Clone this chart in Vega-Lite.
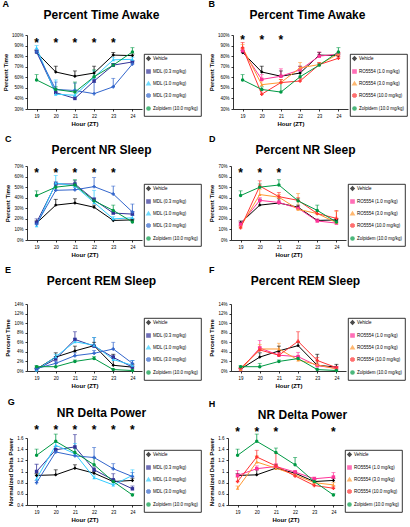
{
"$schema":"https://vega.github.io/schema/vega-lite/v6.json",
"padding":{"left":2,"top":0,"right":0,"bottom":0},
"background":"white",
"config":{"font":"Liberation Sans","view":{"stroke":null},
"axis":{"labelFontSize":4.5,"labelFont":"Liberation Sans","titleFontSize":6,"titleFont":"Liberation Sans","titleFontWeight":"bold","labelColor":"#000","titleColor":"#000","domainColor":"#000","tickColor":"#000","tickSize":2,"grid":false,"labelPadding":2,"titlePadding":3,"domainWidth":0.8,"tickWidth":0.8},
"title":{"fontSize":12,"font":"Liberation Sans","fontWeight":"bold","frame":"group","dx":17,"color":"#000"},
"legend":{"orient":"none","title":null,"strokeColor":"#000","strokeWidth":0.8,"padding":2,"labelFontSize":4.5,"labelFont":"Liberation Sans","symbolSize":10,"rowPadding":2,"labelOffset":2,"labelColor":"#000"}},
"datasets":{
"d":[
{"m":"awake","s":"Vehicle","h":19,"v":83.5,"e":85.5},{"m":"awake","s":"Vehicle","h":20,"v":65,"e":70.5},{"m":"awake","s":"Vehicle","h":21,"v":61,"e":66},{"m":"awake","s":"Vehicle","h":22,"v":64,"e":70.5},{"m":"awake","s":"Vehicle","h":23,"v":81,"e":83.5},{"m":"awake","s":"Vehicle","h":24,"v":80.5,"e":82},
{"m":"awake","s":"MDL (0.3 mg/kg)","h":19,"v":84,"e":86},{"m":"awake","s":"MDL (0.3 mg/kg)","h":20,"v":45.5,"e":49},{"m":"awake","s":"MDL (0.3 mg/kg)","h":21,"v":40,"e":42},{"m":"awake","s":"MDL (0.3 mg/kg)","h":22,"v":56.5,"e":60},{"m":"awake","s":"MDL (0.3 mg/kg)","h":23,"v":71.5,"e":73},{"m":"awake","s":"MDL (0.3 mg/kg)","h":24,"v":74.5,"e":76},
{"m":"awake","s":"MDL (1.0 mg/kg)","h":19,"v":88,"e":90},{"m":"awake","s":"MDL (1.0 mg/kg)","h":20,"v":44,"e":57.5},{"m":"awake","s":"MDL (1.0 mg/kg)","h":21,"v":43,"e":48.5},{"m":"awake","s":"MDL (1.0 mg/kg)","h":22,"v":60,"e":66},{"m":"awake","s":"MDL (1.0 mg/kg)","h":23,"v":76.5,"e":79},{"m":"awake","s":"MDL (1.0 mg/kg)","h":24,"v":77,"e":79},
{"m":"awake","s":"MDL (3.0 mg/kg)","h":19,"v":84,"e":86},{"m":"awake","s":"MDL (3.0 mg/kg)","h":20,"v":48.5,"e":55.5},{"m":"awake","s":"MDL (3.0 mg/kg)","h":21,"v":47.5,"e":54.5},{"m":"awake","s":"MDL (3.0 mg/kg)","h":22,"v":44.5,"e":55},{"m":"awake","s":"MDL (3.0 mg/kg)","h":23,"v":51,"e":59},{"m":"awake","s":"MDL (3.0 mg/kg)","h":24,"v":72.5,"e":75},
{"m":"awake","s":"RO5554 (1.0 mg/kg)","h":19,"v":85,"e":87},{"m":"awake","s":"RO5554 (1.0 mg/kg)","h":20,"v":58,"e":62.5},{"m":"awake","s":"RO5554 (1.0 mg/kg)","h":21,"v":61,"e":68},{"m":"awake","s":"RO5554 (1.0 mg/kg)","h":22,"v":67,"e":70},{"m":"awake","s":"RO5554 (1.0 mg/kg)","h":23,"v":80,"e":84},{"m":"awake","s":"RO5554 (1.0 mg/kg)","h":24,"v":82,"e":83.5},
{"m":"awake","s":"RO5554 (3.0 mg/kg)","h":19,"v":88,"e":91},{"m":"awake","s":"RO5554 (3.0 mg/kg)","h":20,"v":53,"e":58},{"m":"awake","s":"RO5554 (3.0 mg/kg)","h":21,"v":55,"e":58},{"m":"awake","s":"RO5554 (3.0 mg/kg)","h":22,"v":69,"e":74},{"m":"awake","s":"RO5554 (3.0 mg/kg)","h":23,"v":72,"e":74},{"m":"awake","s":"RO5554 (3.0 mg/kg)","h":24,"v":82,"e":83},
{"m":"awake","s":"RO5554 (10.0 mg/kg)","h":19,"v":88,"e":93},{"m":"awake","s":"RO5554 (10.0 mg/kg)","h":20,"v":44,"e":48},{"m":"awake","s":"RO5554 (10.0 mg/kg)","h":21,"v":55,"e":58},{"m":"awake","s":"RO5554 (10.0 mg/kg)","h":22,"v":56.5,"e":59},{"m":"awake","s":"RO5554 (10.0 mg/kg)","h":23,"v":72,"e":74},{"m":"awake","s":"RO5554 (10.0 mg/kg)","h":24,"v":78,"e":79.5},
{"m":"awake","s":"Zolpidem (10.0 mg/kg)","h":19,"v":57.5,"e":62.5},{"m":"awake","s":"Zolpidem (10.0 mg/kg)","h":20,"v":48.5,"e":51},{"m":"awake","s":"Zolpidem (10.0 mg/kg)","h":21,"v":46,"e":55.5},{"m":"awake","s":"Zolpidem (10.0 mg/kg)","h":22,"v":60.5,"e":67},{"m":"awake","s":"Zolpidem (10.0 mg/kg)","h":23,"v":71.5,"e":73},{"m":"awake","s":"Zolpidem (10.0 mg/kg)","h":24,"v":84,"e":88},

{"m":"nr","s":"Vehicle","h":19,"v":16,"e":18},{"m":"nr","s":"Vehicle","h":20,"v":33,"e":38.5},{"m":"nr","s":"Vehicle","h":21,"v":35,"e":39},{"m":"nr","s":"Vehicle","h":22,"v":31,"e":33},{"m":"nr","s":"Vehicle","h":23,"v":18.5,"e":19.5},{"m":"nr","s":"Vehicle","h":24,"v":19,"e":20},
{"m":"nr","s":"MDL (0.3 mg/kg)","h":19,"v":16.5,"e":20},{"m":"nr","s":"MDL (0.3 mg/kg)","h":20,"v":53,"e":55},{"m":"nr","s":"MDL (0.3 mg/kg)","h":21,"v":53,"e":56},{"m":"nr","s":"MDL (0.3 mg/kg)","h":22,"v":38,"e":40},{"m":"nr","s":"MDL (0.3 mg/kg)","h":23,"v":25.5,"e":27.5},{"m":"nr","s":"MDL (0.3 mg/kg)","h":24,"v":24.5,"e":27},
{"m":"nr","s":"MDL (1.0 mg/kg)","h":19,"v":13.5,"e":15},{"m":"nr","s":"MDL (1.0 mg/kg)","h":20,"v":54,"e":61},{"m":"nr","s":"MDL (1.0 mg/kg)","h":21,"v":51,"e":53},{"m":"nr","s":"MDL (1.0 mg/kg)","h":22,"v":35.5,"e":47},{"m":"nr","s":"MDL (1.0 mg/kg)","h":23,"v":20,"e":22},{"m":"nr","s":"MDL (1.0 mg/kg)","h":24,"v":21,"e":23},
{"m":"nr","s":"MDL (3.0 mg/kg)","h":19,"v":15,"e":17},{"m":"nr","s":"MDL (3.0 mg/kg)","h":20,"v":47,"e":53},{"m":"nr","s":"MDL (3.0 mg/kg)","h":21,"v":47.5,"e":50},{"m":"nr","s":"MDL (3.0 mg/kg)","h":22,"v":50.5,"e":59},{"m":"nr","s":"MDL (3.0 mg/kg)","h":23,"v":43.5,"e":51},{"m":"nr","s":"MDL (3.0 mg/kg)","h":24,"v":26.5,"e":34},
{"m":"nr","s":"RO5554 (1.0 mg/kg)","h":19,"v":15,"e":17},{"m":"nr","s":"RO5554 (1.0 mg/kg)","h":20,"v":37.5,"e":40},{"m":"nr","s":"RO5554 (1.0 mg/kg)","h":21,"v":35.5,"e":37},{"m":"nr","s":"RO5554 (1.0 mg/kg)","h":22,"v":30,"e":32},{"m":"nr","s":"RO5554 (1.0 mg/kg)","h":23,"v":18,"e":20},{"m":"nr","s":"RO5554 (1.0 mg/kg)","h":24,"v":16,"e":17},
{"m":"nr","s":"RO5554 (3.0 mg/kg)","h":19,"v":12.5,"e":14},{"m":"nr","s":"RO5554 (3.0 mg/kg)","h":20,"v":43,"e":48},{"m":"nr","s":"RO5554 (3.0 mg/kg)","h":21,"v":40.5,"e":43},{"m":"nr","s":"RO5554 (3.0 mg/kg)","h":22,"v":29,"e":44},{"m":"nr","s":"RO5554 (3.0 mg/kg)","h":23,"v":25,"e":27},{"m":"nr","s":"RO5554 (3.0 mg/kg)","h":24,"v":16.5,"e":27},
{"m":"nr","s":"RO5554 (10.0 mg/kg)","h":19,"v":11.5,"e":13},{"m":"nr","s":"RO5554 (10.0 mg/kg)","h":20,"v":51,"e":56},{"m":"nr","s":"RO5554 (10.0 mg/kg)","h":21,"v":41,"e":45},{"m":"nr","s":"RO5554 (10.0 mg/kg)","h":22,"v":37.5,"e":40},{"m":"nr","s":"RO5554 (10.0 mg/kg)","h":23,"v":25,"e":27},{"m":"nr","s":"RO5554 (10.0 mg/kg)","h":24,"v":20.5,"e":28},
{"m":"nr","s":"Zolpidem (10.0 mg/kg)","h":19,"v":42,"e":46.5},{"m":"nr","s":"Zolpidem (10.0 mg/kg)","h":20,"v":50,"e":53},{"m":"nr","s":"Zolpidem (10.0 mg/kg)","h":21,"v":52,"e":57},{"m":"nr","s":"Zolpidem (10.0 mg/kg)","h":22,"v":37,"e":39},{"m":"nr","s":"Zolpidem (10.0 mg/kg)","h":23,"v":28,"e":33},{"m":"nr","s":"Zolpidem (10.0 mg/kg)","h":24,"v":17,"e":19},

{"m":"rem","s":"Vehicle","h":19,"v":0.4,"e":0.6},{"m":"rem","s":"Vehicle","h":20,"v":2.9,"e":3.8},{"m":"rem","s":"Vehicle","h":21,"v":4.2,"e":5.2},{"m":"rem","s":"Vehicle","h":22,"v":5.3,"e":6},{"m":"rem","s":"Vehicle","h":23,"v":1.2,"e":3.5},{"m":"rem","s":"Vehicle","h":24,"v":0.8,"e":1.4},
{"m":"rem","s":"MDL (0.3 mg/kg)","h":19,"v":0.3,"e":0.5},{"m":"rem","s":"MDL (0.3 mg/kg)","h":20,"v":2.5,"e":3},{"m":"rem","s":"MDL (0.3 mg/kg)","h":21,"v":6.6,"e":8.2},{"m":"rem","s":"MDL (0.3 mg/kg)","h":22,"v":5.2,"e":7},{"m":"rem","s":"MDL (0.3 mg/kg)","h":23,"v":2.85,"e":3.3},{"m":"rem","s":"MDL (0.3 mg/kg)","h":24,"v":0.8,"e":1},
{"m":"rem","s":"MDL (1.0 mg/kg)","h":19,"v":0.2,"e":0.4},{"m":"rem","s":"MDL (1.0 mg/kg)","h":20,"v":3,"e":3.5},{"m":"rem","s":"MDL (1.0 mg/kg)","h":21,"v":6.1,"e":6.8},{"m":"rem","s":"MDL (1.0 mg/kg)","h":22,"v":5.4,"e":7},{"m":"rem","s":"MDL (1.0 mg/kg)","h":23,"v":2.4,"e":2.8},{"m":"rem","s":"MDL (1.0 mg/kg)","h":24,"v":1.2,"e":2.2},
{"m":"rem","s":"MDL (3.0 mg/kg)","h":19,"v":0.5,"e":0.7},{"m":"rem","s":"MDL (3.0 mg/kg)","h":20,"v":1.6,"e":2},{"m":"rem","s":"MDL (3.0 mg/kg)","h":21,"v":3.2,"e":3.8},{"m":"rem","s":"MDL (3.0 mg/kg)","h":22,"v":3.7,"e":4.3},{"m":"rem","s":"MDL (3.0 mg/kg)","h":23,"v":4.6,"e":6},{"m":"rem","s":"MDL (3.0 mg/kg)","h":24,"v":1.6,"e":2.2},
{"m":"rem","s":"RO5554 (1.0 mg/kg)","h":19,"v":0.3,"e":0.5},{"m":"rem","s":"RO5554 (1.0 mg/kg)","h":20,"v":4.8,"e":6.4},{"m":"rem","s":"RO5554 (1.0 mg/kg)","h":21,"v":3.3,"e":3.8},{"m":"rem","s":"RO5554 (1.0 mg/kg)","h":22,"v":3,"e":3.9},{"m":"rem","s":"RO5554 (1.0 mg/kg)","h":23,"v":1.1,"e":1.5},{"m":"rem","s":"RO5554 (1.0 mg/kg)","h":24,"v":0.6,"e":0.9},
{"m":"rem","s":"RO5554 (3.0 mg/kg)","h":19,"v":0.3,"e":0.5},{"m":"rem","s":"RO5554 (3.0 mg/kg)","h":20,"v":4.6,"e":5.5},{"m":"rem","s":"RO5554 (3.0 mg/kg)","h":21,"v":4.6,"e":5.8},{"m":"rem","s":"RO5554 (3.0 mg/kg)","h":22,"v":2.3,"e":2.8},{"m":"rem","s":"RO5554 (3.0 mg/kg)","h":23,"v":1.3,"e":1.7},{"m":"rem","s":"RO5554 (3.0 mg/kg)","h":24,"v":0.4,"e":0.6},
{"m":"rem","s":"RO5554 (10.0 mg/kg)","h":19,"v":0.6,"e":0.8},{"m":"rem","s":"RO5554 (10.0 mg/kg)","h":20,"v":4.4,"e":5},{"m":"rem","s":"RO5554 (10.0 mg/kg)","h":21,"v":3.3,"e":3.9},{"m":"rem","s":"RO5554 (10.0 mg/kg)","h":22,"v":6.2,"e":8.2},{"m":"rem","s":"RO5554 (10.0 mg/kg)","h":23,"v":2.2,"e":2.8},{"m":"rem","s":"RO5554 (10.0 mg/kg)","h":24,"v":0.7,"e":1},
{"m":"rem","s":"Zolpidem (10.0 mg/kg)","h":19,"v":0.9,"e":1.1},{"m":"rem","s":"Zolpidem (10.0 mg/kg)","h":20,"v":0.9,"e":1.6},{"m":"rem","s":"Zolpidem (10.0 mg/kg)","h":21,"v":2,"e":2.3},{"m":"rem","s":"Zolpidem (10.0 mg/kg)","h":22,"v":2.6,"e":3},{"m":"rem","s":"Zolpidem (10.0 mg/kg)","h":23,"v":0.3,"e":0.4},{"m":"rem","s":"Zolpidem (10.0 mg/kg)","h":24,"v":0.1,"e":0.2},

{"m":"delta","s":"Vehicle","h":19,"v":0.93,"e":0.96},{"m":"delta","s":"Vehicle","h":20,"v":0.94,"e":1.03},{"m":"delta","s":"Vehicle","h":21,"v":1.06,"e":1.12},{"m":"delta","s":"Vehicle","h":22,"v":0.97,"e":1.0},{"m":"delta","s":"Vehicle","h":23,"v":0.82,"e":0.86},{"m":"delta","s":"Vehicle","h":24,"v":0.84,"e":0.88},
{"m":"delta","s":"MDL (0.3 mg/kg)","h":19,"v":1.0,"e":1.13},{"m":"delta","s":"MDL (0.3 mg/kg)","h":20,"v":1.39,"e":1.45},{"m":"delta","s":"MDL (0.3 mg/kg)","h":21,"v":1.44,"e":1.66},{"m":"delta","s":"MDL (0.3 mg/kg)","h":22,"v":1.03,"e":1.08},{"m":"delta","s":"MDL (0.3 mg/kg)","h":23,"v":0.85,"e":0.96},{"m":"delta","s":"MDL (0.3 mg/kg)","h":24,"v":0.69,"e":0.74},
{"m":"delta","s":"MDL (1.0 mg/kg)","h":19,"v":0.87,"e":0.93},{"m":"delta","s":"MDL (1.0 mg/kg)","h":20,"v":1.47,"e":1.52},{"m":"delta","s":"MDL (1.0 mg/kg)","h":21,"v":1.32,"e":1.5},{"m":"delta","s":"MDL (1.0 mg/kg)","h":22,"v":0.89,"e":0.92},{"m":"delta","s":"MDL (1.0 mg/kg)","h":23,"v":0.76,"e":0.79},{"m":"delta","s":"MDL (1.0 mg/kg)","h":24,"v":0.93,"e":1.03},
{"m":"delta","s":"MDL (3.0 mg/kg)","h":19,"v":0.8,"e":0.84},{"m":"delta","s":"MDL (3.0 mg/kg)","h":20,"v":1.35,"e":1.4},{"m":"delta","s":"MDL (3.0 mg/kg)","h":21,"v":1.28,"e":1.32},{"m":"delta","s":"MDL (3.0 mg/kg)","h":22,"v":1.25,"e":1.43},{"m":"delta","s":"MDL (3.0 mg/kg)","h":23,"v":1.05,"e":1.14},{"m":"delta","s":"MDL (3.0 mg/kg)","h":24,"v":0.91,"e":0.98},
{"m":"delta","s":"RO5554 (1.0 mg/kg)","h":19,"v":0.93,"e":1.02},{"m":"delta","s":"RO5554 (1.0 mg/kg)","h":20,"v":1.05,"e":1.1},{"m":"delta","s":"RO5554 (1.0 mg/kg)","h":21,"v":1.09,"e":1.14},{"m":"delta","s":"RO5554 (1.0 mg/kg)","h":22,"v":0.99,"e":1.02},{"m":"delta","s":"RO5554 (1.0 mg/kg)","h":23,"v":0.87,"e":0.9},{"m":"delta","s":"RO5554 (1.0 mg/kg)","h":24,"v":0.9,"e":0.98},
{"m":"delta","s":"RO5554 (3.0 mg/kg)","h":19,"v":0.7,"e":0.74},{"m":"delta","s":"RO5554 (3.0 mg/kg)","h":20,"v":1.17,"e":1.28},{"m":"delta","s":"RO5554 (3.0 mg/kg)","h":21,"v":1.06,"e":1.1},{"m":"delta","s":"RO5554 (3.0 mg/kg)","h":22,"v":0.94,"e":0.98},{"m":"delta","s":"RO5554 (3.0 mg/kg)","h":23,"v":0.8,"e":0.84},{"m":"delta","s":"RO5554 (3.0 mg/kg)","h":24,"v":0.76,"e":0.8},
{"m":"delta","s":"RO5554 (10.0 mg/kg)","h":19,"v":0.82,"e":0.9},{"m":"delta","s":"RO5554 (10.0 mg/kg)","h":20,"v":1.26,"e":1.38},{"m":"delta","s":"RO5554 (10.0 mg/kg)","h":21,"v":1.1,"e":1.33},{"m":"delta","s":"RO5554 (10.0 mg/kg)","h":22,"v":0.92,"e":0.96},{"m":"delta","s":"RO5554 (10.0 mg/kg)","h":23,"v":0.75,"e":0.79},{"m":"delta","s":"RO5554 (10.0 mg/kg)","h":24,"v":0.7,"e":0.74},
{"m":"delta","s":"Zolpidem (10.0 mg/kg)","h":19,"v":1.29,"e":1.4},{"m":"delta","s":"Zolpidem (10.0 mg/kg)","h":20,"v":1.54,"e":1.67},{"m":"delta","s":"Zolpidem (10.0 mg/kg)","h":21,"v":1.34,"e":1.42},{"m":"delta","s":"Zolpidem (10.0 mg/kg)","h":22,"v":1.12,"e":1.25},{"m":"delta","s":"Zolpidem (10.0 mg/kg)","h":23,"v":0.82,"e":0.86},{"m":"delta","s":"Zolpidem (10.0 mg/kg)","h":24,"v":0.58,"e":0.6}
],
"st":[
{"p":"A","h":19,"y":94.5},{"p":"A","h":20,"y":94.5},{"p":"A","h":21,"y":94.5},{"p":"A","h":22,"y":94.5},{"p":"A","h":23,"y":94.5},
{"p":"B","h":19,"y":97.5},{"p":"B","h":20,"y":97.5},{"p":"B","h":21,"y":97.5},
{"p":"C","h":19,"y":65},{"p":"C","h":20,"y":65},{"p":"C","h":21,"y":65},{"p":"C","h":22,"y":65},{"p":"C","h":23,"y":65},
{"p":"D","h":19,"y":65},{"p":"D","h":20,"y":65},{"p":"D","h":21,"y":65},
{"p":"G","h":19,"y":1.78},{"p":"G","h":20,"y":1.78},{"p":"G","h":21,"y":1.78},{"p":"G","h":22,"y":1.78},{"p":"G","h":23,"y":1.78},{"p":"G","h":24,"y":1.78},
{"p":"H","h":19,"y":1.74},{"p":"H","h":20,"y":1.74},{"p":"H","h":21,"y":1.74},{"p":"H","h":24,"y":1.74}
]},
"resolve":{"scale":{"color":"independent","shape":"independent","x":"independent","y":"independent"},"legend":{"color":"independent","shape":"independent"}},
"spacing":8,
"vconcat":[
{"hconcat":[
{"title":{"text":"A","anchor":"start","fontSize":9,"frame":"bounds","offset":0,"dx":0},"vconcat":[{"width":115,"height":74,"title":{"text":"Percent Time Awake","offset":10},
"encoding":{"x":{"field":"h","type":"quantitative","scale":{"domain":[18.5,24.5]},"axis":{"values":[19,20,21,22,23,24],"title":"Hour (ZT)"}},
"y":{"field":"v","type":"quantitative","scale":{"domain":[30,100]},"axis":{"values":[30,40,50,60,70,80,90,100],"labelExpr":"datum.value+'%'","title":"Percent Time"}},
"color":{"field":"s","type":"nominal","scale":{"domain":["Vehicle","MDL (0.3 mg/kg)","MDL (1.0 mg/kg)","MDL (3.0 mg/kg)","Zolpidem (10.0 mg/kg)"],"range":["#000000","#333399","#33CCFF","#3366CC","#009944"]},"legend":{"legendX":117,"legendY":19}}},
"layer":[{"data":{"name":"d"},"transform":[{"filter":"datum.m=='awake' && indexof(datum.s,'RO')<0"}],"layer":[
{"mark":{"type":"rule","strokeWidth":0.8},"encoding":{"y2":{"field":"e"}}},
{"mark":{"type":"tick","orient":"horizontal","size":4,"thickness":0.8},"encoding":{"y":{"field":"e","type":"quantitative"}}},
{"mark":{"type":"line","strokeWidth":1},"encoding":{}},
{"mark":{"type":"point","filled":true,"size":12,"opacity":1},"encoding":{"shape":{"field":"s","type":"nominal","scale":{"domain":["Vehicle","MDL (0.3 mg/kg)","MDL (1.0 mg/kg)","MDL (3.0 mg/kg)","Zolpidem (10.0 mg/kg)"],"range":["diamond","square","triangle-up","cross","circle"]},"legend":{"legendX":117,"legendY":19}}}}]},
{"data":{"name":"st"},"transform":[{"filter":"datum.p=='A'"}],"mark":{"type":"text","text":"*","fontSize":12,"fontWeight":"bold","baseline":"alphabetic","dy":6,"clip":false},"encoding":{"y":{"field":"y","type":"quantitative"},"color":{"value":"#000"}}}]}]},
{"title":{"text":"B","anchor":"start","fontSize":9,"frame":"bounds","offset":0,"dx":0},"vconcat":[{"width":115,"height":74,"title":{"text":"Percent Time Awake","offset":10},
"encoding":{"x":{"field":"h","type":"quantitative","scale":{"domain":[18.5,24.5]},"axis":{"values":[19,20,21,22,23,24],"title":"Hour (ZT)"}},
"y":{"field":"v","type":"quantitative","scale":{"domain":[30,100]},"axis":{"values":[30,40,50,60,70,80,90,100],"labelExpr":"datum.value+'%'","title":"Percent Time"}},
"color":{"field":"s","type":"nominal","scale":{"domain":["Vehicle","RO5554 (1.0 mg/kg)","RO5554 (3.0 mg/kg)","RO5554 (10.0 mg/kg)","Zolpidem (10.0 mg/kg)"],"range":["#000000","#FF3399","#FF9933","#FF3333","#009944"]},"legend":{"legendX":117,"legendY":19}}},
"layer":[{"data":{"name":"d"},"transform":[{"filter":"datum.m=='awake' && indexof(datum.s,'MDL')<0"}],"layer":[
{"mark":{"type":"rule","strokeWidth":0.8},"encoding":{"y2":{"field":"e"}}},
{"mark":{"type":"tick","orient":"horizontal","size":4,"thickness":0.8},"encoding":{"y":{"field":"e","type":"quantitative"}}},
{"mark":{"type":"line","strokeWidth":1},"encoding":{}},
{"mark":{"type":"point","filled":true,"size":12,"opacity":1},"encoding":{"shape":{"field":"s","type":"nominal","scale":{"domain":["Vehicle","RO5554 (1.0 mg/kg)","RO5554 (3.0 mg/kg)","RO5554 (10.0 mg/kg)","Zolpidem (10.0 mg/kg)"],"range":["diamond","square","triangle-up","cross","circle"]},"legend":{"legendX":117,"legendY":19}}}}]},
{"data":{"name":"st"},"transform":[{"filter":"datum.p=='B'"}],"mark":{"type":"text","text":"*","fontSize":12,"fontWeight":"bold","baseline":"alphabetic","dy":6,"clip":false},"encoding":{"y":{"field":"y","type":"quantitative"},"color":{"value":"#000"}}}]}]}
],"spacing":6,"resolve":{"scale":{"color":"independent","shape":"independent","x":"independent","y":"independent"},"legend":{"color":"independent","shape":"independent"}}},
{"hconcat":[
{"title":{"text":"C","anchor":"start","fontSize":9,"frame":"bounds","offset":0,"dx":0},"vconcat":[{"width":115,"height":74,"title":{"text":"Percent NR Sleep","offset":6},
"encoding":{"x":{"field":"h","type":"quantitative","scale":{"domain":[18.5,24.5]},"axis":{"values":[19,20,21,22,23,24],"title":"Hour (ZT)"}},
"y":{"field":"v","type":"quantitative","scale":{"domain":[0,70]},"axis":{"values":[0,10,20,30,40,50,60,70],"labelExpr":"datum.value+'%'","title":"Percent Time"}},
"color":{"field":"s","type":"nominal","scale":{"domain":["Vehicle","MDL (0.3 mg/kg)","MDL (1.0 mg/kg)","MDL (3.0 mg/kg)","Zolpidem (10.0 mg/kg)"],"range":["#000000","#333399","#33CCFF","#3366CC","#009944"]},"legend":{"legendX":117,"legendY":18}}},
"layer":[{"data":{"name":"d"},"transform":[{"filter":"datum.m=='nr' && indexof(datum.s,'RO')<0"}],"layer":[
{"mark":{"type":"rule","strokeWidth":0.8},"encoding":{"y2":{"field":"e"}}},
{"mark":{"type":"tick","orient":"horizontal","size":4,"thickness":0.8},"encoding":{"y":{"field":"e","type":"quantitative"}}},
{"mark":{"type":"line","strokeWidth":1},"encoding":{}},
{"mark":{"type":"point","filled":true,"size":12,"opacity":1},"encoding":{"shape":{"field":"s","type":"nominal","scale":{"domain":["Vehicle","MDL (0.3 mg/kg)","MDL (1.0 mg/kg)","MDL (3.0 mg/kg)","Zolpidem (10.0 mg/kg)"],"range":["diamond","square","triangle-up","cross","circle"]},"legend":{"legendX":117,"legendY":18}}}}]},
{"data":{"name":"st"},"transform":[{"filter":"datum.p=='C'"}],"mark":{"type":"text","text":"*","fontSize":12,"fontWeight":"bold","baseline":"alphabetic","dy":6,"clip":false},"encoding":{"y":{"field":"y","type":"quantitative"},"color":{"value":"#000"}}}]}]},
{"title":{"text":"D","anchor":"start","fontSize":9,"frame":"bounds","offset":0,"dx":0},"vconcat":[{"width":115,"height":74,"title":{"text":"Percent NR Sleep","offset":6},
"encoding":{"x":{"field":"h","type":"quantitative","scale":{"domain":[18.5,24.5]},"axis":{"values":[19,20,21,22,23,24],"title":"Hour (ZT)"}},
"y":{"field":"v","type":"quantitative","scale":{"domain":[0,70]},"axis":{"values":[0,10,20,30,40,50,60,70],"labelExpr":"datum.value+'%'","title":"Percent Time"}},
"color":{"field":"s","type":"nominal","scale":{"domain":["Vehicle","RO5554 (1.0 mg/kg)","RO5554 (3.0 mg/kg)","RO5554 (10.0 mg/kg)","Zolpidem (10.0 mg/kg)"],"range":["#000000","#FF3399","#FF9933","#FF3333","#009944"]},"legend":{"legendX":117,"legendY":18}}},
"layer":[{"data":{"name":"d"},"transform":[{"filter":"datum.m=='nr' && indexof(datum.s,'MDL')<0"}],"layer":[
{"mark":{"type":"rule","strokeWidth":0.8},"encoding":{"y2":{"field":"e"}}},
{"mark":{"type":"tick","orient":"horizontal","size":4,"thickness":0.8},"encoding":{"y":{"field":"e","type":"quantitative"}}},
{"mark":{"type":"line","strokeWidth":1},"encoding":{}},
{"mark":{"type":"point","filled":true,"size":12,"opacity":1},"encoding":{"shape":{"field":"s","type":"nominal","scale":{"domain":["Vehicle","RO5554 (1.0 mg/kg)","RO5554 (3.0 mg/kg)","RO5554 (10.0 mg/kg)","Zolpidem (10.0 mg/kg)"],"range":["diamond","square","triangle-up","cross","circle"]},"legend":{"legendX":117,"legendY":18}}}}]},
{"data":{"name":"st"},"transform":[{"filter":"datum.p=='D'"}],"mark":{"type":"text","text":"*","fontSize":12,"fontWeight":"bold","baseline":"alphabetic","dy":6,"clip":false},"encoding":{"y":{"field":"y","type":"quantitative"},"color":{"value":"#000"}}}]}]}
],"spacing":6,"resolve":{"scale":{"color":"independent","shape":"independent","x":"independent","y":"independent"},"legend":{"color":"independent","shape":"independent"}}},
{"hconcat":[
{"title":{"text":"E","anchor":"start","fontSize":9,"frame":"bounds","offset":0,"dx":0},"vconcat":[{"width":115,"height":67,"title":{"text":"Percent REM Sleep","offset":13},
"encoding":{"x":{"field":"h","type":"quantitative","scale":{"domain":[18.5,24.5]},"axis":{"values":[19,20,21,22,23,24],"title":"Hour (ZT)"}},
"y":{"field":"v","type":"quantitative","scale":{"domain":[0,14]},"axis":{"values":[0,2,4,6,8,10,12,14],"labelExpr":"datum.value+'%'","title":"Percent Time"}},
"color":{"field":"s","type":"nominal","scale":{"domain":["Vehicle","MDL (0.3 mg/kg)","MDL (1.0 mg/kg)","MDL (3.0 mg/kg)","Zolpidem (10.0 mg/kg)"],"range":["#000000","#333399","#33CCFF","#3366CC","#009944"]},"legend":{"legendX":117,"legendY":14}}},
"layer":[{"data":{"name":"d"},"transform":[{"filter":"datum.m=='rem' && indexof(datum.s,'RO')<0"}],"layer":[
{"mark":{"type":"rule","strokeWidth":0.8},"encoding":{"y2":{"field":"e"}}},
{"mark":{"type":"tick","orient":"horizontal","size":4,"thickness":0.8},"encoding":{"y":{"field":"e","type":"quantitative"}}},
{"mark":{"type":"line","strokeWidth":1},"encoding":{}},
{"mark":{"type":"point","filled":true,"size":12,"opacity":1},"encoding":{"shape":{"field":"s","type":"nominal","scale":{"domain":["Vehicle","MDL (0.3 mg/kg)","MDL (1.0 mg/kg)","MDL (3.0 mg/kg)","Zolpidem (10.0 mg/kg)"],"range":["diamond","square","triangle-up","cross","circle"]},"legend":{"legendX":117,"legendY":14}}}}]}]}]},
{"title":{"text":"F","anchor":"start","fontSize":9,"frame":"bounds","offset":0,"dx":0},"vconcat":[{"width":115,"height":67,"title":{"text":"Percent REM Sleep","offset":13},
"encoding":{"x":{"field":"h","type":"quantitative","scale":{"domain":[18.5,24.5]},"axis":{"values":[19,20,21,22,23,24],"title":"Hour (ZT)"}},
"y":{"field":"v","type":"quantitative","scale":{"domain":[0,14]},"axis":{"values":[0,2,4,6,8,10,12,14],"labelExpr":"datum.value+'%'","title":"Percent Time"}},
"color":{"field":"s","type":"nominal","scale":{"domain":["Vehicle","RO5554 (1.0 mg/kg)","RO5554 (3.0 mg/kg)","RO5554 (10.0 mg/kg)","Zolpidem (10.0 mg/kg)"],"range":["#000000","#FF3399","#FF9933","#FF3333","#009944"]},"legend":{"legendX":117,"legendY":14}}},
"layer":[{"data":{"name":"d"},"transform":[{"filter":"datum.m=='rem' && indexof(datum.s,'MDL')<0"}],"layer":[
{"mark":{"type":"rule","strokeWidth":0.8},"encoding":{"y2":{"field":"e"}}},
{"mark":{"type":"tick","orient":"horizontal","size":4,"thickness":0.8},"encoding":{"y":{"field":"e","type":"quantitative"}}},
{"mark":{"type":"line","strokeWidth":1},"encoding":{}},
{"mark":{"type":"point","filled":true,"size":12,"opacity":1},"encoding":{"shape":{"field":"s","type":"nominal","scale":{"domain":["Vehicle","RO5554 (1.0 mg/kg)","RO5554 (3.0 mg/kg)","RO5554 (10.0 mg/kg)","Zolpidem (10.0 mg/kg)"],"range":["diamond","square","triangle-up","cross","circle"]},"legend":{"legendX":117,"legendY":14}}}}]}]}]}
],"spacing":6,"resolve":{"scale":{"color":"independent","shape":"independent","x":"independent","y":"independent"},"legend":{"color":"independent","shape":"independent"}}},
{"hconcat":[
{"title":{"text":"G","anchor":"start","fontSize":9,"frame":"bounds","offset":0,"dx":0},"vconcat":[{"width":115,"height":67,"title":{"text":"NR Delta Power","offset":4},
"encoding":{"x":{"field":"h","type":"quantitative","scale":{"domain":[18.5,24.5]},"axis":{"values":[19,20,21,22,23,24],"title":"Hour (ZT)"}},
"y":{"field":"v","type":"quantitative","scale":{"domain":[0.4,1.6]},"axis":{"values":[0.4,0.6,0.8,1,1.2,1.4,1.6],"format":"~g","title":"Normalized Delta Power"}},
"color":{"field":"s","type":"nominal","scale":{"domain":["Vehicle","MDL (0.3 mg/kg)","MDL (1.0 mg/kg)","MDL (3.0 mg/kg)","Zolpidem (10.0 mg/kg)"],"range":["#000000","#333399","#33CCFF","#3366CC","#009944"]},"legend":{"legendX":117,"legendY":12}}},
"layer":[{"data":{"name":"d"},"transform":[{"filter":"datum.m=='delta' && indexof(datum.s,'RO')<0"}],"layer":[
{"mark":{"type":"rule","strokeWidth":0.8},"encoding":{"y2":{"field":"e"}}},
{"mark":{"type":"tick","orient":"horizontal","size":4,"thickness":0.8},"encoding":{"y":{"field":"e","type":"quantitative"}}},
{"mark":{"type":"line","strokeWidth":1},"encoding":{}},
{"mark":{"type":"point","filled":true,"size":12,"opacity":1},"encoding":{"shape":{"field":"s","type":"nominal","scale":{"domain":["Vehicle","MDL (0.3 mg/kg)","MDL (1.0 mg/kg)","MDL (3.0 mg/kg)","Zolpidem (10.0 mg/kg)"],"range":["diamond","square","triangle-up","cross","circle"]},"legend":{"legendX":117,"legendY":12}}}}]},
{"data":{"name":"st"},"transform":[{"filter":"datum.p=='G'"}],"mark":{"type":"text","text":"*","fontSize":12,"fontWeight":"bold","baseline":"alphabetic","dy":6,"clip":false},"encoding":{"y":{"field":"y","type":"quantitative"},"color":{"value":"#000"}}}]}]},
{"title":{"text":"H","anchor":"start","fontSize":9,"frame":"bounds","offset":0,"dx":0},"vconcat":[{"width":115,"height":67,"title":{"text":"NR Delta Power","offset":4},
"encoding":{"x":{"field":"h","type":"quantitative","scale":{"domain":[18.5,24.5]},"axis":{"values":[19,20,21,22,23,24],"title":"Hour (ZT)"}},
"y":{"field":"v","type":"quantitative","scale":{"domain":[0.4,1.6]},"axis":{"values":[0.4,0.6,0.8,1,1.2,1.4,1.6],"format":"~g","title":"Normalized Delta Power"}},
"color":{"field":"s","type":"nominal","scale":{"domain":["Vehicle","RO5554 (1.0 mg/kg)","RO5554 (3.0 mg/kg)","RO5554 (10.0 mg/kg)","Zolpidem (10.0 mg/kg)"],"range":["#000000","#FF3399","#FF9933","#FF3333","#009944"]},"legend":{"legendX":117,"legendY":12}}},
"layer":[{"data":{"name":"d"},"transform":[{"filter":"datum.m=='delta' && indexof(datum.s,'MDL')<0"}],"layer":[
{"mark":{"type":"rule","strokeWidth":0.8},"encoding":{"y2":{"field":"e"}}},
{"mark":{"type":"tick","orient":"horizontal","size":4,"thickness":0.8},"encoding":{"y":{"field":"e","type":"quantitative"}}},
{"mark":{"type":"line","strokeWidth":1},"encoding":{}},
{"mark":{"type":"point","filled":true,"size":12,"opacity":1},"encoding":{"shape":{"field":"s","type":"nominal","scale":{"domain":["Vehicle","RO5554 (1.0 mg/kg)","RO5554 (3.0 mg/kg)","RO5554 (10.0 mg/kg)","Zolpidem (10.0 mg/kg)"],"range":["diamond","square","triangle-up","cross","circle"]},"legend":{"legendX":117,"legendY":12}}}}]},
{"data":{"name":"st"},"transform":[{"filter":"datum.p=='H'"}],"mark":{"type":"text","text":"*","fontSize":12,"fontWeight":"bold","baseline":"alphabetic","dy":6,"clip":false},"encoding":{"y":{"field":"y","type":"quantitative"},"color":{"value":"#000"}}}]}]}
],"spacing":6,"resolve":{"scale":{"color":"independent","shape":"independent","x":"independent","y":"independent"},"legend":{"color":"independent","shape":"independent"}}}
]
}
